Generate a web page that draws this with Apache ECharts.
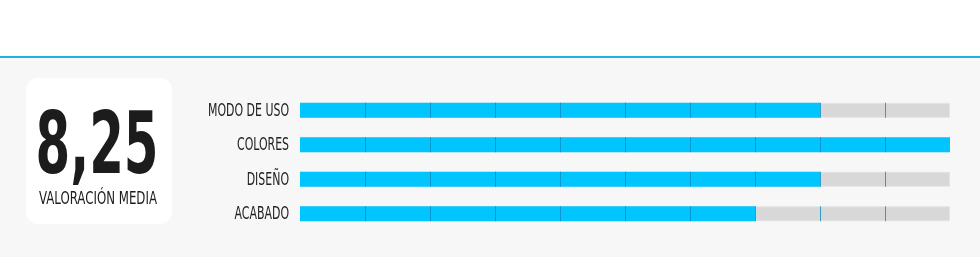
<!DOCTYPE html>
<html><head><meta charset="utf-8">
<script src="https://cdn.jsdelivr.net/npm/echarts@6/dist/echarts.min.js"></script>
<style>html,body{margin:0;padding:0;background:#fff}#c{width:980px;height:257px}</style>
</head><body><div id="c"></div>
<script>
const categories = ['MODO DE USO', 'COLORES', 'DISEÑO', 'ACABADO'];
const scores = [8, 10, 8, 7];
const maxScore = 10;
const tickValues = [1, 2, 3, 4, 5, 6, 7, 8, 9];
const caption = 'VALORACIÓN MEDIA';

const avg = scores.reduce((a, b) => a + b, 0) / scores.length;
const avgText = avg.toFixed(2).replace('.', ',');

const FONT = '"DejaVu Sans Condensed", "Liberation Sans Narrow", sans-serif';
function measure(text, font) {
  const cv = document.createElement('canvas').getContext('2d');
  cv.font = font;
  return cv.measureText(text).width;
}
const bigFont = 'bold 86px ' + FONT;
const capFont = '17px ' + FONT;
const labFont = '17px ' + FONT;
const bigScale = 123 / measure(avgText, bigFont);
const capScale = 118 / measure(caption, capFont);
const labScale = 81 / measure(categories[0], labFont);

const tickData = [];
categories.forEach(c => tickValues.forEach(v => tickData.push([v, c])));

const baseGraphic = [
  { type: 'rect', z: -10, shape: { x: 0, y: 57, width: 980, height: 200 }, style: { fill: '#f7f7f7' } },
  { type: 'rect', z: -9, shape: { x: 0, y: 56, width: 980, height: 2 }, style: { fill: '#1fb0e6' } },
  { type: 'rect', z: -8, shape: { x: 26, y: 78, width: 146, height: 146, r: 12 }, style: { fill: '#ffffff' } },
  { type: 'text', z: 10, x: 97, y: 151, scaleX: bigScale, scaleY: 1,
    style: { text: avgText, font: bigFont, fill: '#1c1c1c', align: 'center', verticalAlign: 'middle' } },
  { type: 'text', z: 10, x: 98, y: 200, scaleX: capScale, scaleY: 1,
    style: { text: caption, font: capFont, fill: '#1c1c1c', align: 'center', verticalAlign: 'middle' } }
];

const chart = echarts.init(document.getElementById('c'), null, { renderer: 'canvas' });
chart.setOption({
  animation: false,
  backgroundColor: '#ffffff',
  graphic: baseGraphic,
  grid: { left: 300, right: 30, top: 93, bottom: 26, containLabel: false },
  xAxis: {
    type: 'value', min: 0, max: maxScore, interval: 1,
    axisLine: { show: false }, axisTick: { show: false }, axisLabel: { show: false }, splitLine: { show: false }
  },
  yAxis: {
    type: 'category', data: categories, inverse: true,
    axisLine: { show: false }, axisTick: { show: false }, splitLine: { show: false },
    axisLabel: { show: false }
  },
  series: [
    { type: 'bar', data: categories.map(() => maxScore), barWidth: 15, z: 1, silent: true,
      itemStyle: { color: '#d8d8d8', borderColor: '#e4e4e4', borderWidth: 1 } },
    { type: 'bar', data: scores, barWidth: 15, barGap: '-100%', z: 2, silent: true,
      itemStyle: { color: '#00c5fe' } },
    { type: 'scatter', data: tickData, symbol: 'rect', symbolSize: [1, 15], symbolOffset: [0.5, 0], z: 3, silent: true,
      itemStyle: { color: '#0a8cc4' } }
  ]
});

// Category labels placed via the axis scale, horizontally condensed like the original typeface
const labelX = chart.convertToPixel({ xAxisIndex: 0 }, 0) - 11;
const labelGraphic = categories.map(c => ({
  type: 'text', z: 10, x: labelX, y: chart.convertToPixel({ yAxisIndex: 0 }, c) + 1,
  scaleX: labScale, scaleY: 1,
  style: { text: c, font: labFont, fill: '#222222', align: 'right', verticalAlign: 'middle' }
}));
chart.setOption({ graphic: baseGraphic.concat(labelGraphic) });
</script></body></html>
